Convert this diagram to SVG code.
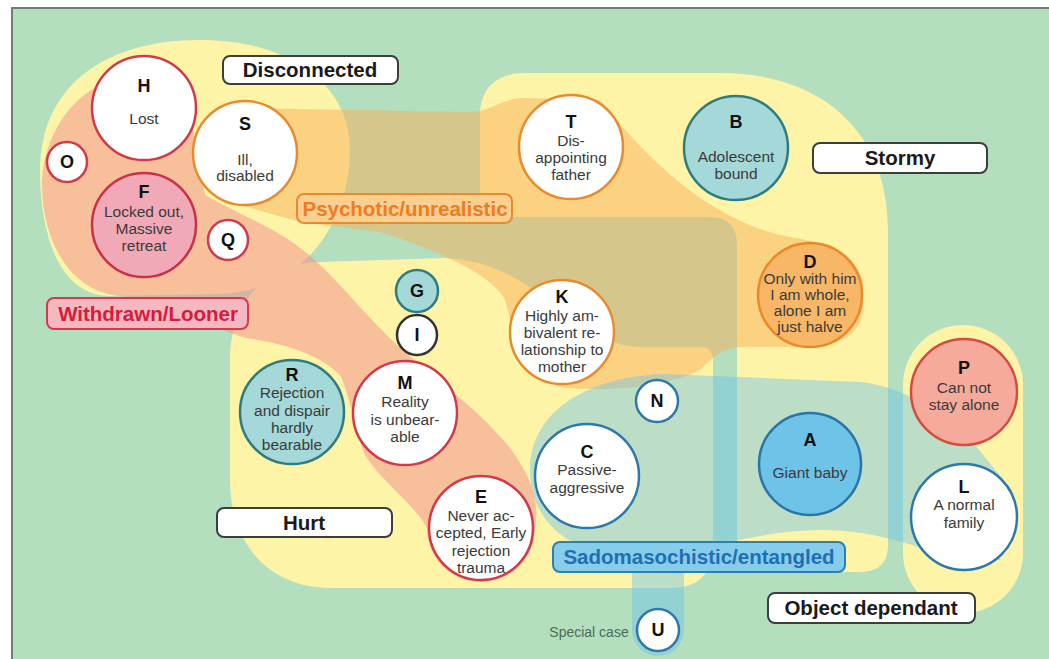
<svg xmlns="http://www.w3.org/2000/svg" width="1049" height="659" viewBox="0 0 1049 659">
<style>
.yel{fill:#fdf4a8}
.nd{stroke-width:2.5}
.red{fill:#fff;stroke:#d2394b}
.org{fill:#fff;stroke:#e98a2c}
.blu{fill:#fff;stroke:#2c78ad}
.teal{fill:#a5d8d8;stroke:#2e7b80}
.drk{fill:#fff;stroke:#333}
.ltr{font-family:"Liberation Sans",Arial,sans-serif;font-weight:bold;font-size:18px;fill:#111;text-anchor:middle}
.dsc{font-family:"Liberation Sans",Arial,sans-serif;font-size:15.5px;fill:#3a3a3a;text-anchor:middle}
.box{fill:#fff;stroke:#3a3f3c;stroke-width:2}
.bt{font-family:"Liberation Sans",Arial,sans-serif;font-weight:bold;font-size:20.5px;fill:#1a1a1a;text-anchor:middle}
</style>
<rect x="0" y="0" width="1049" height="659" fill="#fff"/>
<rect x="12" y="8" width="1040" height="660" fill="#b3dfbf" stroke="#6d7f73" stroke-width="2"/>
<g id="regions">
<path class="yel" d="M 40 170 C 40 90, 100 40, 200 40 C 290 40, 350 85, 350 150 C 350 215, 310 290, 220 294 L 110 296 C 62 296, 40 240, 40 170 Z"/>
<path class="yel" d="M 480 115 C 480 90, 495 73, 525 73 L 720 73 C 820 73, 888 130, 888 230 L 888 545 Q 888 572, 860 572 L 765 572 Q 737 572, 737 545 L 737 245 Q 737 217, 709 217 L 508 217 Q 480 217, 480 190 Z"/>
<path class="yel" d="M 320 262 L 445 258 C 540 262, 570 345, 640 347 L 700 347 Q 713 347, 713 360 L 713 545 Q 713 588, 670 588 L 330 588 C 270 588, 230 545, 230 480 L 230 360 C 230 305, 265 262, 320 262 Z"/>
<rect class="yel" x="903" y="325" width="120" height="288" rx="60"/>
<path fill="#f7b05a" opacity="0.5" d="M 240 108 L 470 112 C 490 112, 500 100, 520 98 L 600 100 C 640 150, 700 215, 780 235 C 820 243, 850 245, 863 280 L 863 310 C 860 340, 830 347, 800 347 L 745 347 C 725 347, 715 355, 700 370 C 670 385, 620 392, 565 388 C 530 380, 515 340, 505 300 C 490 270, 420 245, 380 232 L 300 222 L 240 205 Z"/>
<path fill="#f28c8c" opacity="0.5" d="M 42 185 C 42 150, 60 105, 100 85 L 190 115 L 205 195 C 240 215, 275 228, 300 248 C 330 270, 360 310, 397 345 C 430 375, 480 410, 510 448 C 530 475, 540 500, 535 528 A 54 54 0 0 1 427 528 C 415 505, 380 480, 365 455 C 355 430, 350 395, 340 375 C 320 355, 290 345, 247 338 C 210 330, 180 300, 120 296 C 70 292, 42 240, 42 185 Z"/>
<path fill="#6cc4ea" opacity="0.45" d="M 530 470 C 530 410, 590 376, 665 374 L 860 382 C 905 386, 945 415, 975 445 L 1012 490 L 1000 560 C 965 562, 935 552, 905 543 C 875 534, 850 530, 820 530 C 780 530, 740 540, 700 548 C 690 550, 684 556, 684 570 L 684 630 A 26 26 0 0 1 632 630 L 632 570 C 632 560, 620 552, 590 548 C 555 540, 530 510, 530 470 Z"/>
</g>
<g id="labels">
<g id="lbl-disconnected"><rect class="box" x="223" y="56" width="175" height="28" rx="7"/><text class="bt" x="310" y="77">Disconnected</text></g>
<g id="lbl-stormy"><rect class="box" x="813" y="143" width="174" height="30" rx="7"/><text class="bt" x="900" y="165">Stormy</text></g>
<g id="lbl-psychotic"><rect x="297" y="194" width="215" height="29" rx="7" fill="#fbcf90" stroke="#e98a2c" stroke-width="2"/><text class="bt" x="405" y="216" style="fill:#ee7d22">Psychotic/unrealistic</text></g>
<g id="lbl-withdrawn"><rect x="47" y="298" width="201" height="31" rx="7" fill="#f6b8c0" stroke="#d8384f" stroke-width="2"/><text class="bt" x="148" y="321" style="fill:#d41c3c">Withdrawn/Looner</text></g>
<g id="lbl-hurt"><rect class="box" x="217" y="508" width="175" height="29" rx="7"/><text class="bt" x="304" y="530">Hurt</text></g>
<g id="lbl-sado"><rect x="553" y="542" width="292" height="30" rx="7" fill="#86cdeb" stroke="#2a7fb5" stroke-width="2"/><text class="bt" x="699" y="564" style="fill:#1f6fb2">Sadomasochistic/entangled</text></g>
<g id="lbl-object"><rect class="box" x="768" y="593" width="207" height="30" rx="7"/><text class="bt" x="871" y="615">Object dependant</text></g>
<text x="589" y="637" font-family="Liberation Sans, Arial, sans-serif" font-size="14" fill="#4d6b55" text-anchor="middle">Special case</text>
</g>
<g id="connectors"/>
<g id="nodes">
<g id="H"><circle class="nd red" cx="144" cy="108" r="52"/><text class="ltr" x="144" y="92">H</text><text class="dsc" x="144" y="124">Lost</text></g>
<g id="O"><circle class="nd red" cx="67" cy="162" r="20"/><text class="ltr" x="67" y="168">O</text></g>
<g id="S"><circle class="nd org" cx="245" cy="153" r="52"/><text class="ltr" x="245" y="130">S</text><text class="dsc" x="245" y="165">Ill,</text><text class="dsc" x="245" y="181">disabled</text></g>
<g id="F"><circle class="nd" cx="144" cy="225" r="52" fill="#f1a9b8" stroke="#c9304a"/><text class="ltr" x="144" y="198">F</text><text class="dsc" x="144" y="217">Locked out,</text><text class="dsc" x="144" y="234">Massive</text><text class="dsc" x="144" y="251">retreat</text></g>
<g id="Q"><circle class="nd red" cx="228" cy="240" r="20"/><text class="ltr" x="228" y="246">Q</text></g>
<g id="T"><circle class="nd org" cx="571" cy="147" r="52"/><text class="ltr" x="571" y="128">T</text><text class="dsc" x="571" y="146">Dis-</text><text class="dsc" x="571" y="163">appointing</text><text class="dsc" x="571" y="180">father</text></g>
<g id="B"><circle class="nd teal" cx="736" cy="148" r="52"/><text class="ltr" x="736" y="128">B</text><text class="dsc" x="736" y="162">Adolescent</text><text class="dsc" x="736" y="179">bound</text></g>
<g id="D"><circle class="nd" cx="810" cy="295" r="52" fill="#f7b767" stroke="#e9892a"/><text class="ltr" x="810" y="268">D</text><text class="dsc" x="810" y="284">Only with him</text><text class="dsc" x="810" y="300">I am whole,</text><text class="dsc" x="810" y="316">alone I am</text><text class="dsc" x="810" y="332">just halve</text></g>
<g id="K"><circle class="nd org" cx="562" cy="332" r="52"/><text class="ltr" x="562" y="303">K</text><text class="dsc" x="562" y="321">Highly am-</text><text class="dsc" x="562" y="338">bivalent re-</text><text class="dsc" x="562" y="355">lationship to</text><text class="dsc" x="562" y="372">mother</text></g>
<g id="G"><circle class="nd teal" cx="417" cy="291" r="21"/><text class="ltr" x="417" y="297">G</text></g>
<g id="I"><circle class="nd drk" cx="417" cy="335" r="20"/><text class="ltr" x="417" y="341">I</text></g>
<g id="R"><circle class="nd teal" cx="292" cy="412" r="52"/><text class="ltr" x="292" y="381">R</text><text class="dsc" x="292" y="398">Rejection</text><text class="dsc" x="292" y="416">and dispair</text><text class="dsc" x="292" y="433">hardly</text><text class="dsc" x="292" y="450">bearable</text></g>
<g id="M"><circle class="nd red" cx="405" cy="413" r="52"/><text class="ltr" x="405" y="389">M</text><text class="dsc" x="405" y="407">Reality</text><text class="dsc" x="405" y="425">is unbear-</text><text class="dsc" x="405" y="442">able</text></g>
<g id="E"><circle class="nd red" cx="481" cy="528" r="52"/><text class="ltr" x="481" y="503">E</text><text class="dsc" x="481" y="521">Never ac-</text><text class="dsc" x="481" y="538">cepted, Early</text><text class="dsc" x="481" y="556">rejection</text><text class="dsc" x="481" y="573">trauma</text></g>
<g id="N"><circle class="nd blu" cx="657" cy="401" r="21"/><text class="ltr" x="657" y="407">N</text></g>
<g id="C"><circle class="nd blu" cx="587" cy="476" r="52"/><text class="ltr" x="587" y="458">C</text><text class="dsc" x="587" y="475">Passive-</text><text class="dsc" x="587" y="493">aggressive</text></g>
<g id="A"><circle class="nd" cx="810" cy="464" r="51" fill="#6ec3e8" stroke="#2a74a8"/><text class="ltr" x="810" y="446">A</text><text class="dsc" x="810" y="478">Giant baby</text></g>
<g id="P"><circle class="nd" cx="964" cy="392" r="53" fill="#f5aa9b" stroke="#d64a3f"/><text class="ltr" x="964" y="374">P</text><text class="dsc" x="964" y="393">Can not</text><text class="dsc" x="964" y="410">stay alone</text></g>
<g id="L"><circle class="nd blu" cx="964" cy="517" r="53"/><text class="ltr" x="964" y="493">L</text><text class="dsc" x="964" y="510">A normal</text><text class="dsc" x="964" y="528">family</text></g>
<g id="U"><circle class="nd blu" cx="658" cy="630" r="21"/><text class="ltr" x="658" y="636">U</text></g>
</g>
</svg>
